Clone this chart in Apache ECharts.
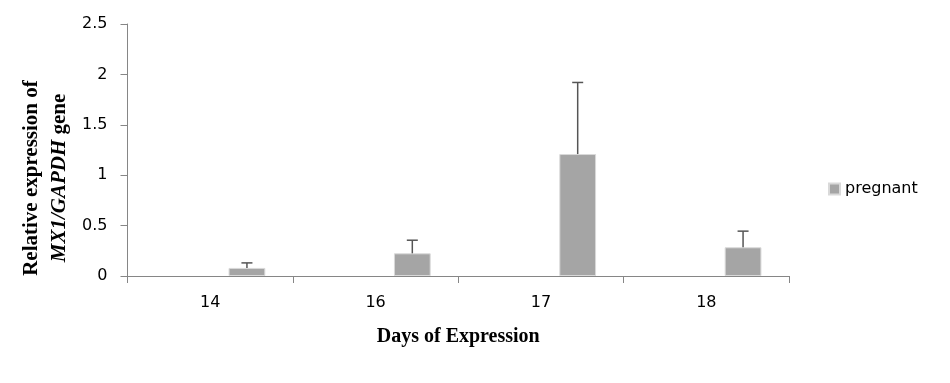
<!DOCTYPE html>
<html>
<head>
<meta charset="utf-8">
<script src="https://cdn.jsdelivr.net/npm/echarts@6/dist/echarts.min.js"></script>
<style>
html,body{margin:0;padding:0;background:#fff;}
#chart{width:950px;height:383px;}
</style>
</head>
<body>
<div id="chart"></div>
<script>
var days = ['14', '16', '17', '18'];
var pregnant = [0.08, 0.225, 1.21, 0.285];
var pregnantErr = [0.05, 0.13, 0.71, 0.16];
var yTicks = [0, 0.5, 1, 1.5, 2, 2.5];

var errData = days.map(function (d, i) {
  return [i, pregnant[i], pregnant[i] + pregnantErr[i]];
});

var chart = echarts.init(document.getElementById('chart'));
var labelFont = '"DejaVu Sans", sans-serif';
var serif = '"Liberation Serif", "Times New Roman", serif';
chart.setOption({
  animation: false,
  backgroundColor: '#fff',
  grid: { left: 127.5, right: 161, top: 24, bottom: 107, containLabel: false },
  legend: {
    data: ['pregnant'],
    left: 823, top: 176,
    itemWidth: 11, itemHeight: 11, itemGap: 6,
    icon: 'rect',
    textStyle: { fontFamily: labelFont, fontSize: 16, color: '#000' }
  },
  graphic: [{
    type: 'text',
    x: 46, y: 178,
    rotation: Math.PI / 2,
    style: {
      text: 'Relative expression of\n{i|MX1/GAPDH} gene',
      font: 'bold 21px ' + serif,
      fill: '#000',
      align: 'center',
      verticalAlign: 'middle',
      lineHeight: 28,
      rich: { i: { fontStyle: 'italic', fontWeight: 'bold', fontFamily: serif, fontSize: 21, fill: '#000', lineHeight: 28 } }
    }
  }],
  xAxis: {
    type: 'category',
    data: days,
    name: 'Days of Expression',
    nameLocation: 'middle',
    nameGap: 51,
    nameTextStyle: { fontFamily: serif, fontWeight: 'bold', fontSize: 20, color: '#000' },
    axisLine: { lineStyle: { color: '#868686', width: 1 } },
    axisTick: { show: true, length: 7, alignWithLabel: false, lineStyle: { color: '#868686' } },
    axisLabel: { fontFamily: labelFont, fontSize: 16, color: '#000', margin: 19 },
    splitLine: { show: false }
  },
  yAxis: {
    type: 'value',
    min: yTicks[0], max: yTicks[yTicks.length - 1], interval: 0.5,
    axisLine: { show: true, lineStyle: { color: '#868686', width: 1 } },
    axisTick: { show: true, length: 7, lineStyle: { color: '#868686' } },
    axisLabel: { fontFamily: labelFont, fontSize: 16, color: '#000', margin: 20 },
    splitLine: { show: false }
  },
  series: [
    { name: 'blank1', type: 'bar', data: ['-', '-', '-', '-'], barGap: 0, barCategoryGap: '33.333%' },
    { name: 'blank2', type: 'bar', data: ['-', '-', '-', '-'], barGap: 0, barCategoryGap: '33.333%' },
    {
      name: 'pregnant', type: 'bar', data: pregnant, barGap: 0, barCategoryGap: '33.333%',
      itemStyle: { color: '#A5A5A5', borderColor: '#d9d9d9', borderWidth: 1 }
    },
    {
      name: 'err', type: 'custom', data: errData, z: 5,
      renderItem: function (params, api) {
        var band = api.size([1, 0])[0];
        var off = band * 2 / 9;
        var lo = api.coord([api.value(0), api.value(1)]);
        var hi = api.coord([api.value(0), api.value(2)]);
        var x = lo[0] + off;
        var cap = 5.5;
        var st = { stroke: '#555555', lineWidth: 1.5 };
        return {
          type: 'group',
          children: [
            { type: 'line', shape: { x1: x, y1: lo[1], x2: x, y2: hi[1] }, style: st },
            { type: 'line', shape: { x1: x - cap, y1: hi[1], x2: x + cap, y2: hi[1] }, style: st }
          ]
        };
      }
    }
  ]
});
</script>
</body>
</html>
